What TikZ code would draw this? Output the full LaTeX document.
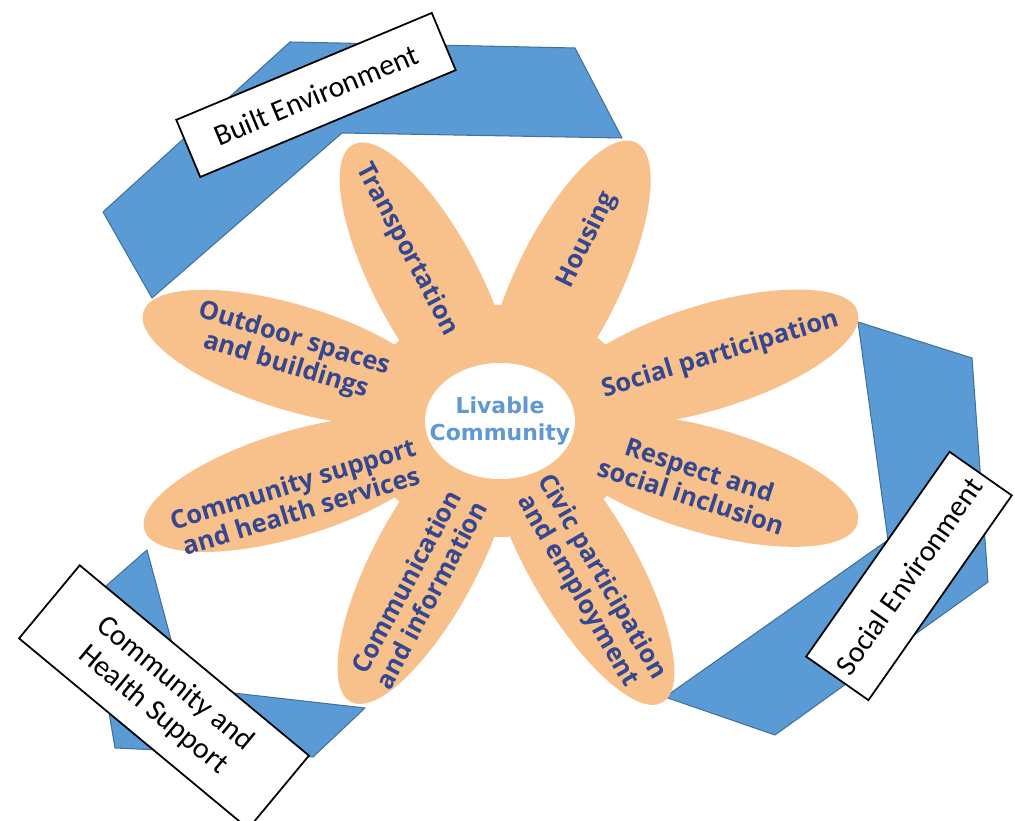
\documentclass[tikz,border=0pt]{standalone}
\usepackage{fontspec}
\setmainfont{Carlito}
\newfontfamily\petalfont{Open Sans}
\newfontfamily\hubfont{DejaVu Sans}
\usetikzlibrary{positioning,calc,shapes.geometric}
\definecolor{petalorange}{RGB}{248,193,140}
\definecolor{bandblue}{RGB}{91,155,213}
\definecolor{bandedge}{RGB}{65,113,156}
\definecolor{petalink}{RGB}{52,71,143}
\definecolor{hubblue}{RGB}{96,152,210}

\begin{document}
\begin{tikzpicture}[x=0.02cm,y=0.02cm,
    band/.style={fill=bandblue,draw=bandedge,line width=0.6pt,line join=round},
    tag/.style={draw=black,fill=white,line width=1pt,inner sep=0pt,align=center,
      font=\fontsize{17}{19.5}\selectfont},
    petal/.style={ellipse,fill=petalorange,inner sep=0pt,minimum height=2.1cm},
    leaf/.style={text=petalink,align=center,inner sep=0pt,
      font=\petalfont\bfseries\fontsize{14.5}{16}\selectfont}]
  \useasboundingbox (0,0) rectangle (1015,821);

  % the three blue ribbons
  \draw[band] (103,609) -- (290,779) -- (575,773) -- (622,683) -- (342,688) -- (152,523) -- cycle;
  \draw[band] (858,499) -- (972,463) -- (988,239) -- (775,86) -- (665,124) -- (888,281) -- cycle;
  \draw[band] (147,271) -- (90,221) -- (115,73) -- (313,64) -- (365,113) -- (233,128) -- (173,174) -- cycle;

  \node[tag,minimum width=5.54cm,minimum height=1.24cm,rotate=22.7] (built) at (316,726) {Built Environment};
  \node[tag,minimum width=5cm,minimum height=1.52cm,rotate=55] (socenv) at (909,245) {Social Environment};
  \node[tag,minimum width=5.96cm,minimum height=1.9cm,rotate=-39.7] (health) at (164,124) {Community and\\Health Support};

  % flower
  \coordinate (hub) at (500,400);
  \node[petal,minimum width=5.6cm,minimum height=4.64cm] (disc) at (hub) {};
  \node[petal,minimum width=6.26cm,rotate=118] (transport) at ($(hub)+(118:156.5)$) {};
  \node[petal,minimum width=6.2cm,rotate=64] (housing) at ($(hub)+(64:155)$) {};
  \node[petal,minimum width=6.28cm,rotate=17] (socpart) at ($(hub)+(17:217)$) {};
  \node[petal,minimum width=6.24cm,rotate=-16] (respect) at ($(hub)+(-16:216)$) {};
  \node[petal,minimum width=6.5cm,rotate=-60] (civic) at ($(hub)+(-60:162.5)$) {};
  \node[petal,minimum width=6.36cm,rotate=242] (commu) at ($(hub)+(242:159)$) {};
  \node[petal,minimum width=6.24cm,rotate=197] (support) at ($(hub)+(197:216)$) {};
  \node[petal,minimum width=6.26cm,rotate=163] (outdoor) at ($(hub)+(163:216.5)$) {};
  \node[ellipse,fill=white,inner sep=0pt,minimum width=3cm,minimum height=2.32cm] (core) at (hub) {};

  \node[leaf,rotate=-62] (transport-t) at ($(hub)+(118.5:195)$) {Transportation};
  \node[leaf,rotate=64] (housing-t) at ($(hub)+(64.3:201)$) {Housing};
  \node[leaf,rotate=17] (socpart-t) at ($(hub)+(16.7:230)$) {Social participation};
  \node[leaf,rotate=-18] (respect-t) at ($(hub)+(-17.6:205)$) {Respect and\\social inclusion};
  \node[leaf,rotate=-60] (civic-t) at ($(hub)+(-61.3:186)$) {Civic participation\\and employment};
  \node[leaf,rotate=62] (commu-t) at ($(hub)+(244:186)$) {Communication\\and information};
  \node[leaf,rotate=17] (support-t) at ($(hub)+(200.5:217)$) {Community support\\and health services};
  \node[leaf,rotate=-17] (outdoor-t) at ($(hub)+(162:221)$) {Outdoor spaces\\and buildings};
  \node[text=hubblue,align=center,font=\hubfont\bfseries\fontsize{12.5}{15}\selectfont] (livable) at (hub) {Livable\\Community};
\end{tikzpicture}
\end{document}
